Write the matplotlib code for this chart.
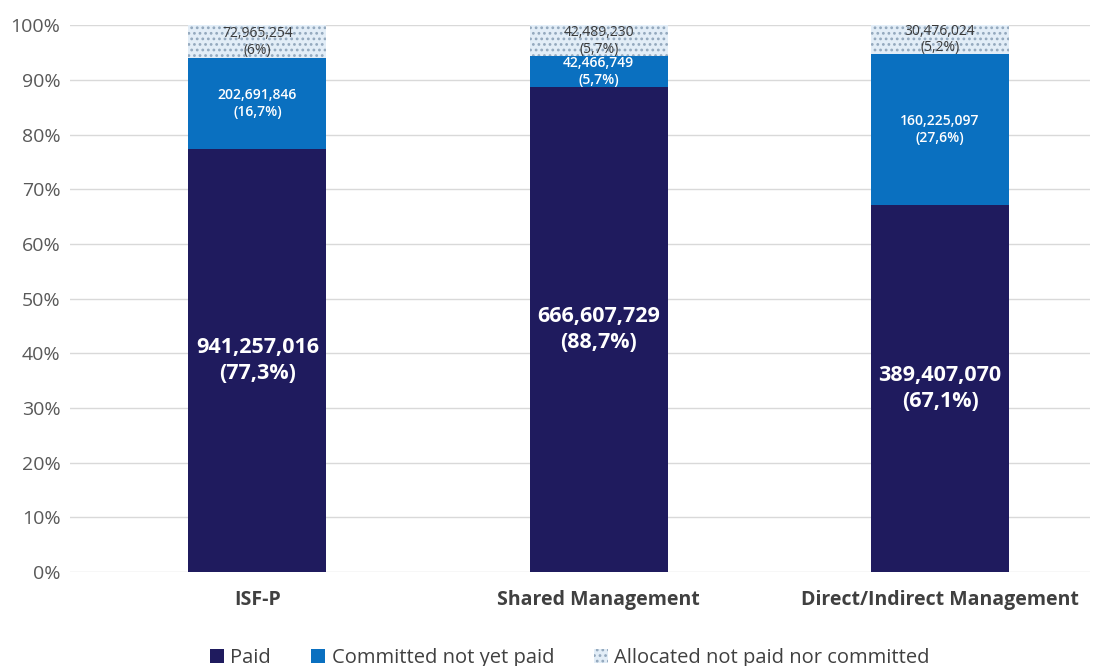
import matplotlib.pyplot as plt
import matplotlib.ticker as ticker
import numpy as np

# data
categories = ['ISF-P', 'Shared Management', 'Direct/Indirect Management']
paid = [941257016, 666607729, 389407070]
committed = [202691846, 42466749, 160225097]
allocated = [72965254, 42489230, 30476024]
paid_pct = ['77,3%', '88,7%', '67,1%']
committed_pct = ['16,7%', '5,7%', '27,6%']
allocated_pct = ['6%', '5,7%', '5,2%']

plt.rcParams['font.family'] = ['Open Sans', 'DejaVu Sans']
plt.rcParams['hatch.linewidth'] = 1.2

fig = plt.figure(figsize=(10.98, 6.66), dpi=100)
ax = fig.add_axes([0.064, 0.141, 0.929, 0.821])

totals = np.array(paid) + np.array(committed) + np.array(allocated)
p = np.array(paid) / totals
c = np.array(committed) / totals
a = np.array(allocated) / totals
x = np.arange(len(categories))
w = 0.405

ax.bar(x, p, w, color='#1f1b5e', label='Paid', zorder=2)
ax.bar(x, c, w, bottom=p, color='#0a70c0', label='Committed not yet paid', zorder=2)
ax.bar(x, a, w, bottom=p + c, facecolor='#e2edf7', hatch='...', edgecolor='#93a8bd',
       linewidth=0, label='Allocated not paid nor committed', zorder=2)

for i in range(len(categories)):
    ax.text(x[i], p[i] / 2, f'{paid[i]:,}\n({paid_pct[i]})', ha='center', va='center',
            color='white', fontsize=15.5, fontweight='bold', linespacing=1.3, zorder=3)
    ax.text(x[i], p[i] + c[i] / 2, f'{committed[i]:,}\n({committed_pct[i]})', ha='center',
            va='center', color='white', fontsize=10, fontweight='semibold',
            linespacing=1.3, zorder=3)
    ax.text(x[i], p[i] + c[i] + a[i] / 2, f'{allocated[i]:,}\n({allocated_pct[i]})',
            ha='center', va='center', color='#3a3a3a', fontsize=10, linespacing=1.15, zorder=3)

ax.set_xlim(-0.548, 2.44)
ax.set_ylim(0, 1.0)
ax.yaxis.set_major_locator(ticker.MultipleLocator(0.1))
ax.yaxis.set_major_formatter(ticker.PercentFormatter(1.0, decimals=0))
ax.grid(axis='y', color='#d9d9d9', linewidth=1, zorder=0)
ax.set_axisbelow(True)
for s in ax.spines.values():
    s.set_visible(False)
ax.tick_params(axis='both', length=0)
ax.tick_params(axis='y', labelsize=14, labelcolor='#595959', pad=7)
ax.set_xticks(x)
ax.set_xticklabels(categories, fontsize=14, fontweight='bold', color='#404040')
ax.tick_params(axis='x', pad=13)

ax.legend(loc='upper center', bbox_to_anchor=(0.49, -0.105), ncol=3, frameon=False,
          fontsize=14.5, handlelength=0.7, handleheight=0.7, handletextpad=0.3,
          columnspacing=2.0, labelcolor='#404040')

fig.savefig('out.png', dpi=100)
